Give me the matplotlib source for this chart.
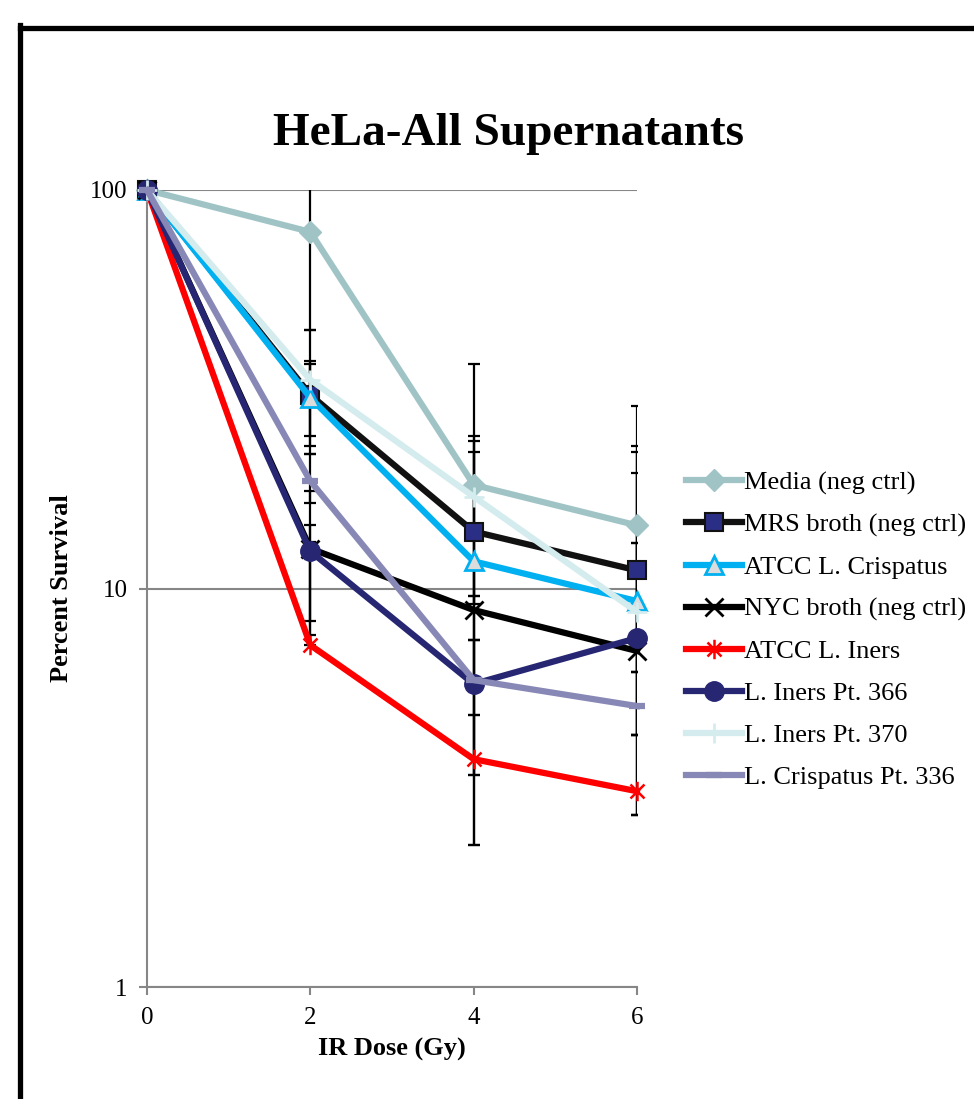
import numpy as np
import matplotlib
matplotlib.use("Agg")
import matplotlib.pyplot as plt
from matplotlib.path import Path
from matplotlib.lines import Line2D

plt.rcParams['font.family'] = ['Liberation Serif', 'DejaVu Serif']

dose = [0, 2, 4, 6]

labels = ["Media (neg ctrl)", "MRS broth (neg ctrl)", "ATCC L. Crispatus",
          "NYC broth (neg ctrl)", "ATCC L. Iners", "L. Iners Pt. 366",
          "L. Iners Pt. 370", "L. Crispatus Pt. 336"]

media = [100, 78.5, 18.2, 14.4]
mrs = [100, 30.6, 13.9, 11.1]
atcc_crisp = [100, 30.1, 11.7, 9.3]
nyc = [100, 12.6, 8.83, 6.97]
atcc_iners = [100, 7.21, 3.73, 3.10]
iners366 = [100, 12.4, 5.76, 7.51]
iners370 = [100, 33.4, 17.0, 8.73]
crisp336 = [100, 18.6, 5.89, 5.07]

# error bar ends (low, high), x = 0, 2, 4, 6
media_lo = [100, 44.6, 9.58, 6.17];   media_hi = [100, 112, 36.6, 28.7]
mrs_lo = [100, 24.1, 7.43, 4.29];     mrs_hi = [100, 37.2, 23.5, 22.8]
crisp_lo = [100, 22.8, 4.82, 2.70];   crisp_hi = [100, 36.6, 22.0, 22.0]
nyc_lo = [100, 8.29, 3.40, 2.70];     nyc_hi = [100, 17.6, 9.58, 13.0]
iners_lo = [100, 7.21, 2.27, 2.70];   iners_hi = [100, 14.4, 4.82, 4.29]
i366_lo = [100, 7.64, 2.27, 4.29];    i366_hi = [100, 13.1, 7.43, 13.0]
i370_lo = [100, 21.8, 9.12, 6.17];    i370_hi = [100, 44.6, 24.1, 19.5]
c336_lo = [100, 16.4, 3.40, 4.29];    c336_hi = [100, 21.8, 7.43, 6.17]

values = [media, mrs, atcc_crisp, nyc, atcc_iners, iners366, iners370, crisp336]
lows = [media_lo, mrs_lo, crisp_lo, nyc_lo, iners_lo, i366_lo, i370_lo, c336_lo]
highs = [media_hi, mrs_hi, crisp_hi, nyc_hi, iners_hi, i366_hi, i370_hi, c336_hi]

# asterisk marker (x with a vertical bar)
star = Path([(0, -1), (0, 1), (-0.72, -0.72), (0.72, 0.72), (-0.72, 0.72), (0.72, -0.72)],
            [Path.MOVETO, Path.LINETO, Path.MOVETO, Path.LINETO, Path.MOVETO, Path.LINETO])

styles = [
    dict(color='#A0C4C6', marker='D', ms=11, mfc='#A0C4C6', mec='#A0C4C6'),
    dict(color='#111111', marker='s', ms=13, mfc='#2B2E85', mec='#111111', mew=1.5),
    dict(color='#00B0F0', marker='^', ms=13, mfc='#DCDCDC', mec='#00B0F0', mew=2),
    dict(color='#000000', marker='x', ms=13, mfc='none', mec='#000000', mew=2),
    dict(color='#FF0000', marker=star, ms=14, mfc='none', mec='#FF0000', mew=1.8),
    dict(color='#262673', marker='o', ms=14, mfc='#262673', mec='#262673'),
    dict(color='#D4ECEE', marker='+', ms=14, mfc='none', mec='#D4ECEE', mew=2),
    dict(color='#8888B6', marker='_', ms=11, mfc='none', mec='#8888B6', mew=4.5),
]

fig = plt.figure(figsize=(9.74, 10.99), dpi=100)
ax = fig.add_axes([147/974, 1 - 987/1099, 490/974, 797/1099])

for v, lo, hi in zip(values, lows, highs):
    v = np.array(v)
    yerr = [v - np.array(lo), np.array(hi) - v]
    ax.errorbar(dose, v, yerr=yerr, fmt='none', ecolor='black', elinewidth=1.6,
                capsize=4.5, capthick=1.6, zorder=2.5)

handles = []
for v, lab, st in zip(values, labels, styles):
    ln, = ax.plot(dose, v, lw=4.5, label=lab, zorder=3, clip_on=False, **st)
    handles.append(ln)

ax.set_yscale('log')
ax.set_xlim(0, 6)
ax.set_ylim(1, 100)
ax.set_xticks(dose)
ax.set_yticks([1, 10, 100])
ax.set_yticklabels(['1', '10', '100'])
ax.yaxis.set_minor_locator(matplotlib.ticker.NullLocator())
ax.grid(axis='y', which='major', color='#868686', lw=1.5, zorder=1)
for s in ['top', 'right']:
    ax.spines[s].set_visible(False)
for s in ['left', 'bottom']:
    ax.spines[s].set_color('#868686')
    ax.spines[s].set_linewidth(1.5)
ax.tick_params(colors='#868686', labelcolor='black', labelsize=18, length=6, width=1.5)
ax.tick_params(axis='y', pad=8)
ax.tick_params(axis='x', pad=8.5)

ax.set_xlabel("IR Dose (Gy)", fontsize=19, fontweight='bold', labelpad=6)
ax.set_ylabel("Percent Survival", fontsize=19, fontweight='bold', labelpad=12)
fig.text(0.522, 1 - 134/1099, "HeLa-All Supernatants", fontsize=34, fontweight='bold',
         ha='center', va='center')

fig.legend(handles=handles, loc='center left', bbox_to_anchor=(675/974, 1 - 630/1099),
           frameon=False, fontsize=19, handlelength=2.15, handletextpad=0.05,
           labelspacing=0.70, borderaxespad=0)

# outer frame (clipped at right and bottom)
fig.add_artist(Line2D([20/974, 20/974], [0, 1 - 25/1099], transform=fig.transFigure,
                      color='black', lw=3.8, solid_capstyle='projecting'))
fig.add_artist(Line2D([20/974, 1.0], [1 - 27.5/1099, 1 - 27.5/1099], transform=fig.transFigure,
                      color='black', lw=3.8))

fig.savefig("out.png", dpi=100)
